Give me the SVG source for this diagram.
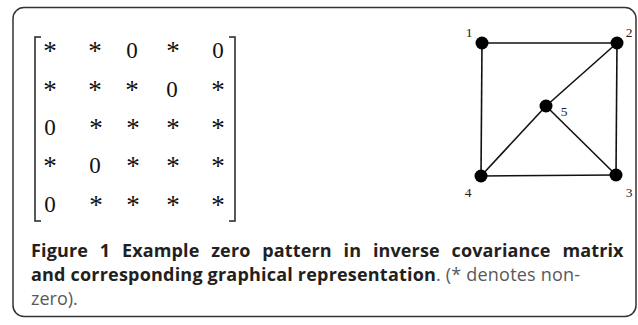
<svg xmlns="http://www.w3.org/2000/svg" width="638" height="325" viewBox="0 0 638 325">
<style>
.m{font-family:"Liberation Serif","Times New Roman",serif;font-size:23px;fill:#111;text-anchor:middle}
.s{font-family:"Liberation Serif","Times New Roman",serif;font-size:27px;fill:#111;text-anchor:middle}
.lbl{font-family:"Liberation Serif","Times New Roman",serif;font-size:13.5px;fill:#222;text-anchor:middle}
.br{fill:none;stroke:#222;stroke-width:1.5}
.edge{stroke:#111;stroke-width:1.6;fill:none}
.node{fill:#000}
.cap{font-family:"Open Sans","Noto Sans",sans-serif;font-size:18px;fill:#231f20}
.b{font-weight:bold}
.r{fill:#58595b}
</style>
<rect x="13" y="7.5" width="623" height="309" rx="11" ry="11" fill="#fff" stroke="#333" stroke-width="1.5"/>
<g id="matrix">
<polyline class="br" points="41,37 35,37 35,221 41,221"/>
<polyline class="br" points="229,37 235,37 235,221 229,221"/>
<text class="s" x="50" y="60">*</text><text class="s" x="95" y="60">*</text><text class="m" x="132" y="58">0</text><text class="s" x="173" y="60">*</text><text class="m" x="218" y="58">0</text>
<text class="s" x="50" y="99">*</text><text class="s" x="95" y="99">*</text><text class="s" x="132" y="99">*</text><text class="m" x="172" y="97">0</text><text class="s" x="218" y="99">*</text>
<text class="m" x="50" y="135">0</text><text class="s" x="96" y="137">*</text><text class="s" x="133" y="137">*</text><text class="s" x="173" y="137">*</text><text class="s" x="218" y="137">*</text>
<text class="s" x="50" y="175">*</text><text class="m" x="95" y="173">0</text><text class="s" x="133" y="175">*</text><text class="s" x="173" y="175">*</text><text class="s" x="218" y="175">*</text>
<text class="m" x="50" y="212">0</text><text class="s" x="96" y="214">*</text><text class="s" x="133" y="214">*</text><text class="s" x="173" y="214">*</text><text class="s" x="218" y="214">*</text>
</g>
<g id="connectors">
<line class="edge" x1="482" y1="43" x2="617" y2="43"/>
<line class="edge" x1="482" y1="43" x2="481" y2="176"/>
<line class="edge" x1="617" y1="43" x2="616" y2="175"/>
<line class="edge" x1="481" y1="176" x2="616" y2="175"/>
<line class="edge" x1="617" y1="43" x2="546" y2="106"/>
<line class="edge" x1="546" y1="106" x2="481" y2="176"/>
<line class="edge" x1="546" y1="106" x2="616" y2="175"/>
</g>
<g id="node1"><circle class="node" cx="482" cy="43" r="6.5"/><text class="lbl" x="469" y="37">1</text></g>
<g id="node2"><circle class="node" cx="617" cy="43" r="6.5"/><text class="lbl" x="629" y="37">2</text></g>
<g id="node3"><circle class="node" cx="616" cy="175" r="6.5"/><text class="lbl" x="629" y="197">3</text></g>
<g id="node4"><circle class="node" cx="481" cy="176" r="6.5"/><text class="lbl" x="468" y="197">4</text></g>
<g id="node5"><circle class="node" cx="546" cy="106" r="6.5"/><text class="lbl" x="564" y="116">5</text></g>
<g id="caption">
<text class="cap b" x="31" y="257" letter-spacing="0.5" word-spacing="7" textLength="593" lengthAdjust="spacing">Figure 1 Example zero pattern in inverse covariance matrix</text>
<text class="cap" x="31" y="281" letter-spacing="0.2"><tspan class="b">and corresponding graphical representation</tspan><tspan class="r">. (* denotes non-</tspan></text>
<text class="cap r" x="31" y="305">zero).</text>
</g>
</svg>
